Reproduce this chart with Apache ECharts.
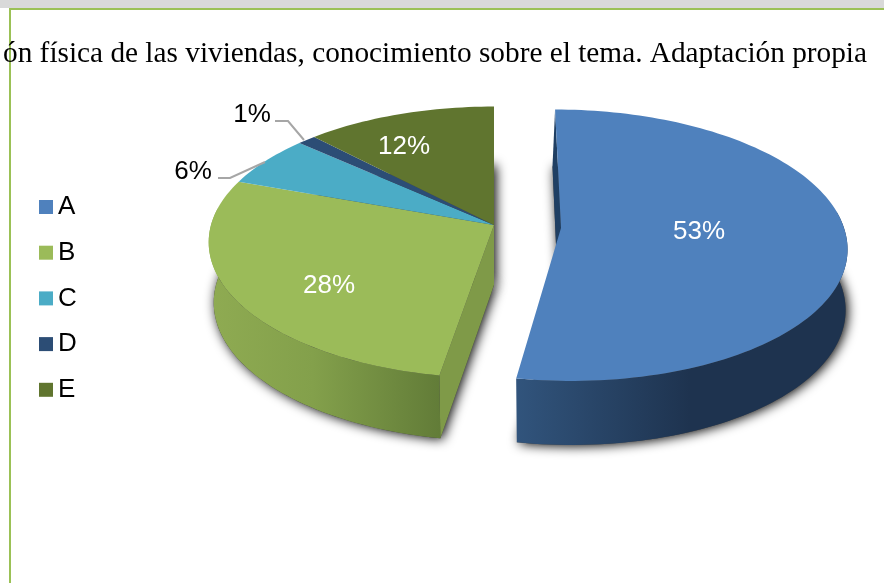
<!DOCTYPE html>
<html>
<head>
<meta charset="utf-8">
<style>
  html, body { margin: 0; padding: 0; background: #fff; }
  #main { width: 884px; height: 583px; }
</style>
<script src="https://cdn.jsdelivr.net/npm/echarts@6/dist/echarts.min.js"></script>
</head>
<body>
<div id="main"></div>
<script>
const categories = ['A', 'B', 'C', 'D', 'E']
// shares, the labels show them rounded
const shares = [52.7, 27.8, 6.1, 1.2, 12.2]
const caption = 'ón física de las viviendas, conocimiento sobre el tema. Adaptación propia'

const topColors = ['#4f81bd', '#9bbb59', '#4bacc6', '#2c4d75', '#60752f']
const cutColors = ['#1f3f63', '#7f9a48', '#3a8aa0', '#1f3550', '#4a5c25']
const labelColors = ['#fff', '#fff', '#000', '#000', '#fff']
// label centre relative to the slice apex
const labelOffsets = [[138, 4], [-165, 61], [-301, -53], [-242, -110], [-90, -78]]

// left group and the pulled out blue slice
const leftPie = {
  cx: 494, cy: 225, depth: 60, lowDx: 0, rx: 283, rxLow: 278, ryLow: 136,
  shearBack: 0, shearBackLow: 0, shearFront: 0
}
const bluePie = {
  cx: 561, cy: 228, depth: 60, lowDx: -3, rx: 283, rxLow: 281, ryLow: 137,
  shearBack: 0.05, shearBackLow: 0.07, shearFront: 0.065
}
const RY = 133.5, TILT = 0.127

const rad = d => d * Math.PI / 180

function project (pie, deg, r, bottom) {
  const a = bottom ? pie.rxLow : pie.rx
  const b = bottom ? pie.ryLow : RY
  const f = 1 + TILT * r * Math.cos(rad(deg))
  const dy = -b * r * Math.cos(rad(deg)) / f
  const back = bottom ? pie.shearBackLow : pie.shearBack
  const shear = dy > 0 ? pie.shearFront : back
  return [
    pie.cx + a * r * Math.sin(rad(deg)) / f + shear * dy,
    pie.cy + (bottom ? pie.depth : 0) + dy
  ]
}

function arc (pie, from, to, bottom) {
  const pts = []
  const n = Math.max(2, Math.ceil(Math.abs(to - from) / 1.5))
  for (let i = 0; i <= n; i++) {
    pts.push(project(pie, from + (to - from) * i / n, 1, bottom))
  }
  return pts
}

function wallFill (idx) {
  if (idx === 0) {
    return new echarts.graphic.LinearGradient(517, 0, 690, 0, [
      { offset: 0, color: '#31547c' },
      { offset: 1, color: '#1e334f' }
    ], true)
  }
  return new echarts.graphic.LinearGradient(209, 0, 440, 0, [
    { offset: 0, color: '#8fab52' },
    { offset: 0.45, color: '#83a04b' },
    { offset: 1, color: '#627c38' }
  ], true)
}

function renderSlice (idx) {
  return function (params, api) {
    const value = api.value(0)
    const start = api.value(1) * 3.6
    const end = start + value * 3.6
    const pie = idx === 0 ? bluePie : leftPie
    const apex = [pie.cx, pie.cy]
    const apexLow = [pie.cx + pie.lowDx, pie.cy + pie.depth]
    const children = []

    // bottom face is only seen as the drop shadow round the walls
    children.push({
      type: 'polygon',
      z2: 1,
      shape: { points: [apexLow].concat(arc(pie, start, end, true)) },
      style: {
        fill: '#444',
        shadowBlur: 12,
        shadowOffsetX: 2,
        shadowOffsetY: 1,
        shadowColor: '#000'
      }
    })

    // cut face on the first edge, only the two front slices show it
    if (idx < 2) {
      children.push({
        type: 'polygon',
        z2: 2,
        shape: { points: [apex, project(pie, start, 1), project(pie, start, 1, true), apexLow] },
        style: { fill: cutColors[idx] }
      })
    }

    // outer wall, only the part that faces the viewer
    const wallFrom = Math.max(start, 82.7)
    const wallTo = Math.min(end, 277.3)
    if (wallTo > wallFrom) {
      children.push({
        type: 'polygon',
        z2: 3,
        shape: { points: arc(pie, wallFrom, wallTo).concat(arc(pie, wallTo, wallFrom, true)) },
        style: { fill: wallFill(idx) }
      })
    }

    children.push({
      type: 'polygon',
      z2: 4,
      shape: { points: [apex].concat(arc(pie, start, end)) },
      style: { fill: topColors[idx] }
    })

    children.push({
      type: 'text',
      z2: 6,
      style: {
        x: apex[0] + labelOffsets[idx][0],
        y: apex[1] + labelOffsets[idx][1],
        text: Math.round(value) + '%',
        fill: labelColors[idx],
        font: '26px "Liberation Sans"',
        align: 'center',
        verticalAlign: 'middle'
      }
    })

    return { type: 'group', children: children }
  }
}

let running = 0
const series = categories.map((name, i) => {
  const s = {
    name: name,
    type: 'custom',
    coordinateSystem: 'none',
    silent: true,
    animation: false,
    itemStyle: { color: topColors[i] },
    renderItem: renderSlice(i),
    data: [[shares[i], running]]
  }
  running += shares[i]
  return s
})

const chart = echarts.init(document.getElementById('main'), null, { renderer: 'canvas' })
chart.setOption({
  backgroundColor: '#fff',
  animation: false,
  legend: {
    orient: 'vertical',
    left: 39,
    top: 192,
    padding: 0,
    icon: 'rect',
    itemWidth: 14,
    itemHeight: 14,
    itemGap: 15.7,
    selectedMode: false,
    data: categories,
    textStyle: {
      color: '#000',
      fontSize: 26,
      fontFamily: 'Liberation Sans',
      lineHeight: 30,
      padding: [0, 0, 0, 0]
    }
  },
  graphic: [
    { type: 'rect', z: 0, shape: { x: 0, y: 0, width: 884, height: 8 }, style: { fill: '#d9d9d9' } },
    { type: 'rect', z: 1, shape: { x: 9, y: 8, width: 875, height: 2 }, style: { fill: '#9bc156' } },
    { type: 'rect', z: 1, shape: { x: 9, y: 8, width: 2, height: 575 }, style: { fill: '#9bc156' } },
    {
      type: 'text',
      z: 5,
      style: {
        x: 3,
        y: 54,
        text: caption,
        fill: '#000',
        font: '29.3px "Liberation Serif"',
        verticalAlign: 'middle'
      }
    },
    // leader lines of the two small slices
    {
      type: 'polyline',
      z: 5,
      shape: { points: [[275, 121], [288, 121], [304, 140]] },
      style: { stroke: '#a6a6a6', lineWidth: 2, fill: null }
    },
    {
      type: 'polyline',
      z: 5,
      shape: { points: [[218, 178], [230, 178], [265, 162]] },
      style: { stroke: '#a6a6a6', lineWidth: 2, fill: null }
    }
  ],
  series: series
})
</script>
</body>
</html>
